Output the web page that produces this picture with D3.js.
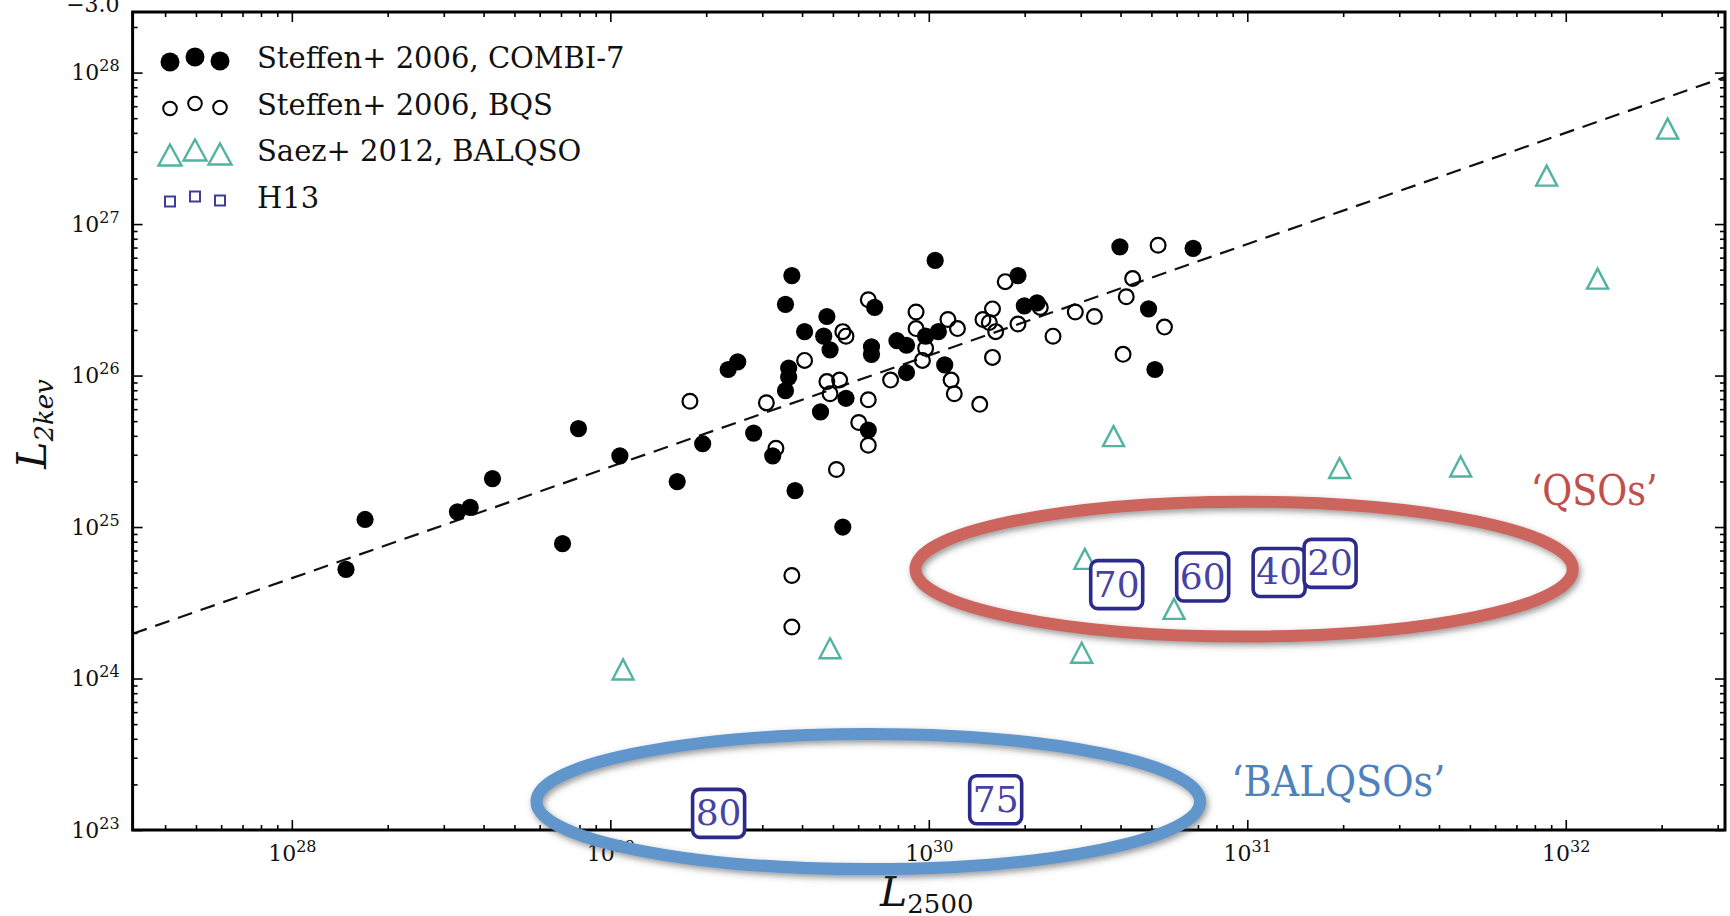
<!DOCTYPE html>
<html>
<head>
<meta charset="utf-8">
<script src="https://cdn.jsdelivr.net/npm/d3@7"></script>
<style>
  body { margin: 0; background: #fff; }
  svg text { font-family: "DejaVu Serif", serif; }
</style>
</head>
<body>
<div id="chart"></div>
<script>
// values, stored as log10 of the luminosity

// Steffen+ 2006, COMBI-7 (filled circles)
const combiLogL2500 = [28.17, 28.23, 28.52, 28.56, 28.63, 28.85, 28.90, 29.03, 29.21, 29.29,
    29.37, 29.40, 29.45, 29.51, 29.55, 29.56, 29.56, 29.55, 29.57, 29.58,
    29.61, 29.66, 29.67, 29.68, 29.69, 29.73, 29.74, 29.81, 29.82, 29.82,
    29.83, 29.90, 29.93, 29.93, 29.99, 30.02, 30.03, 30.05, 30.28, 30.30,
    30.34, 30.60, 30.83, 30.69, 30.71];
const combiLogL2kev = [24.72, 25.05, 25.10, 25.13, 25.32, 24.89, 25.65, 25.47, 25.30, 25.55,
    26.04, 26.09, 25.62, 25.47, 25.90, 25.99, 26.05, 26.47, 26.66, 25.24,
    26.29, 25.76, 26.26, 26.39, 26.17, 25.00, 25.85, 25.64, 26.19, 26.14,
    26.45, 26.23, 26.02, 26.20, 26.26, 26.76, 26.29, 26.07, 26.66, 26.46,
    26.48, 26.85, 26.84, 26.44, 26.04];

// Steffen+ 2006, BQS (open circles)
const bqsLogL2500 = [29.25, 29.49, 29.61, 29.73, 29.74, 29.68, 29.72, 29.69, 29.81, 29.78,
    29.81, 29.71, 29.52, 29.81, 29.96, 29.96, 29.99, 29.98, 29.88, 30.06,
    30.09, 30.07, 30.08, 30.24, 30.20, 30.17, 30.19, 30.21, 30.28, 30.35,
    30.39, 30.20, 30.46, 30.52, 30.64, 30.62, 30.72, 30.74, 30.61, 30.16,
    29.57, 29.57];
const bqsLogL2kev = [25.83, 25.82, 26.10, 26.29, 26.26, 25.96, 25.97, 25.88, 25.84, 25.69,
    25.54, 25.38, 25.52, 26.50, 26.42, 26.31, 26.18, 26.10, 25.97, 26.37,
    26.31, 25.97, 25.88, 26.62, 26.44, 26.37, 26.35, 26.29, 26.34, 26.45,
    26.26, 26.12, 26.42, 26.39, 26.64, 26.52, 26.86, 26.32, 26.14, 25.81,
    24.68, 24.34];

// Saez+ 2012, BALQSO (triangles)
const saezLogL2500 = [29.04, 29.69, 30.48, 30.49, 30.58, 30.77, 31.29, 31.67, 31.94, 32.10, 32.32];
const saezLogL2kev = [24.06, 24.20, 24.17, 24.79, 25.60, 24.46, 25.39, 25.40, 27.32, 26.64, 27.63];

// H13 (labelled boxes)
const h13Labels = ["80", "75", "70", "60", "40", "20"];
const h13LogL2500 = [29.34, 30.21, 30.59, 30.86, 31.10, 31.26];
const h13LogL2kev = [23.11, 23.20, 24.62, 24.67, 24.70, 24.76];

// dashed relation, end points
const fitLogL2500 = [27.5, 32.5];
const fitLogL2kev = [24.295, 27.97];

// axes
const xDomainLog = [27.5, 32.5];
const yDomainLog = [23, 28.4];
const xMajorExp = [28, 29, 30, 31, 32];
const yMajorExp = [23, 24, 25, 26, 27, 28];

const legendLabels = ["Steffen+ 2006, COMBI-7", "Steffen+ 2006, BQS", "Saez+ 2012, BALQSO", "H13"];

const width = 1730;
const height = 916;
const plot = { left: 132.6, right: 1725, top: 12, bottom: 830 };

const teal = "#52b3a0";
const boxBlue = "#2c2a8a";

const svg = d3.select("#chart")
    .append("svg")
    .attr("width", width)
    .attr("height", height);

const defs = svg.append("defs");
defs.append("clipPath").attr("id", "plotClip")
    .append("rect")
    .attr("x", plot.left).attr("y", plot.top)
    .attr("width", plot.right - plot.left).attr("height", plot.bottom - plot.top);

const shadow = defs.append("filter").attr("id", "shadow")
    .attr("x", "-20%").attr("y", "-40%").attr("width", "140%").attr("height", "180%");
shadow.append("feDropShadow")
    .attr("dx", 2).attr("dy", 3).attr("stdDeviation", 3)
    .attr("flood-color", "#444").attr("flood-opacity", 0.55);

const x = d3.scaleLog()
    .domain(xDomainLog.map(e => 10 ** e))
    .range([plot.left, plot.right]);

const y = d3.scaleLog()
    .domain(yDomainLog.map(e => 10 ** e))
    .range([plot.bottom, plot.top]);

// minor ticks 2..9 of each decade inside the domain
function minorTicks(domainLog) {
    return d3.range(Math.floor(domainLog[0]), Math.ceil(domainLog[1]))
        .flatMap(e => d3.range(2, 10).map(m => m * 10 ** e))
        .filter(v => v > 10 ** domainLog[0] && v < 10 ** domainLog[1]);
}

const xMajor = xMajorExp.map(e => 10 ** e);
const yMajor = yMajorExp.map(e => 10 ** e);

// ---- points ----
const pts = svg.append("g").attr("clip-path", "url(#plotClip)");

// fit line
pts.append("path")
    .datum(fitLogL2500.map((v, i) => [10 ** v, 10 ** fitLogL2kev[i]]))
    .attr("d", d3.line().x(d => x(d[0])).y(d => y(d[1])))
    .attr("fill", "none")
    .attr("stroke", "#111")
    .attr("stroke-width", 2.2)
    .attr("stroke-dasharray", "15,9");

pts.selectAll(".bqs")
    .data(bqsLogL2500.map((v, i) => ({ x: 10 ** v, y: 10 ** bqsLogL2kev[i] })))
    .enter()
    .append("circle")
    .attr("class", "bqs")
    .attr("cx", d => x(d.x))
    .attr("cy", d => y(d.y))
    .attr("r", 7.4)
    .attr("fill", "none")
    .attr("stroke", "#000")
    .attr("stroke-width", 2.2);

pts.selectAll(".combi")
    .data(combiLogL2500.map((v, i) => ({ x: 10 ** v, y: 10 ** combiLogL2kev[i] })))
    .enter()
    .append("circle")
    .attr("class", "combi")
    .attr("cx", d => x(d.x))
    .attr("cy", d => y(d.y))
    .attr("r", 8.6)
    .attr("fill", "#000");

const tri = (w, h) => `M0,${-h}L${w},${h}L${-w},${h}Z`;

pts.selectAll(".saez")
    .data(saezLogL2500.map((v, i) => ({ x: 10 ** v, y: 10 ** saezLogL2kev[i] })))
    .enter()
    .append("path")
    .attr("class", "saez")
    .attr("transform", d => `translate(${x(d.x)},${y(d.y)})`)
    .attr("d", tri(10.5, 10))
    .attr("fill", "none")
    .attr("stroke", teal)
    .attr("stroke-width", 2.4)
    .attr("stroke-linejoin", "miter");

// ---- axes ----
function powerLabels(g) {
    g.selectAll(".tick text").each(function (d) {
        const t = d3.select(this).text(null);
        t.append("tspan").text("10");
        t.append("tspan")
            .attr("dy", "-0.55em")
            .attr("font-size", 16)
            .text(Math.round(Math.log10(d)));
    });
}

function styleAxis(g) {
    g.select(".domain").remove();
    g.attr("font-family", "DejaVu Serif, serif").attr("font-size", 22);
    g.selectAll(".tick line").attr("stroke-width", 1.6);
    g.selectAll(".tick text").attr("fill", "#111");
}

const gxMinor = svg.append("g")
    .attr("transform", `translate(0,${plot.bottom})`)
    .call(d3.axisBottom(x).tickValues(minorTicks(xDomainLog)).tickSizeInner(-5).tickSizeOuter(0).tickFormat(""));
styleAxis(gxMinor);

const gx = svg.append("g")
    .attr("transform", `translate(0,${plot.bottom})`)
    .call(d3.axisBottom(x).tickValues(xMajor).tickSizeInner(-10).tickSizeOuter(0).tickPadding(15).tickFormat(d => d));
styleAxis(gx);
powerLabels(gx);

const gxTopMinor = svg.append("g")
    .attr("transform", `translate(0,${plot.top})`)
    .call(d3.axisTop(x).tickValues(minorTicks(xDomainLog)).tickSizeInner(-5).tickSizeOuter(0).tickFormat(""));
styleAxis(gxTopMinor);

const gxTop = svg.append("g")
    .attr("transform", `translate(0,${plot.top})`)
    .call(d3.axisTop(x).tickValues(xMajor).tickSizeInner(-10).tickSizeOuter(0).tickFormat(""));
styleAxis(gxTop);

const gyMinor = svg.append("g")
    .attr("transform", `translate(${plot.left},0)`)
    .call(d3.axisLeft(y).tickValues(minorTicks(yDomainLog)).tickSizeInner(-5).tickSizeOuter(0).tickFormat(""));
styleAxis(gyMinor);

const gy = svg.append("g")
    .attr("transform", `translate(${plot.left},0)`)
    .call(d3.axisLeft(y).tickValues(yMajor).tickSizeInner(-10).tickSizeOuter(0).tickPadding(13).tickFormat(d => d));
styleAxis(gy);
powerLabels(gy);

const gyRightMinor = svg.append("g")
    .attr("transform", `translate(${plot.right},0)`)
    .call(d3.axisRight(y).tickValues(minorTicks(yDomainLog)).tickSizeInner(-5).tickSizeOuter(0).tickFormat(""));
styleAxis(gyRightMinor);

const gyRight = svg.append("g")
    .attr("transform", `translate(${plot.right},0)`)
    .call(d3.axisRight(y).tickValues(yMajor).tickSizeInner(-10).tickSizeOuter(0).tickFormat(""));
styleAxis(gyRight);

// frame
svg.append("rect")
    .attr("x", plot.left).attr("y", plot.top)
    .attr("width", plot.right - plot.left).attr("height", plot.bottom - plot.top)
    .attr("fill", "none").attr("stroke", "#000").attr("stroke-width", 3);

// label left over from the panel above, cut by the top edge as in the original
svg.append("text")
    .attr("x", plot.left - 13).attr("y", 12)
    .attr("text-anchor", "end")
    .attr("font-size", 22)
    .attr("fill", "#111")
    .text("\u22123.0");

// axis titles
const xTitle = svg.append("text")
    .attr("x", (plot.left + plot.right) / 2 - 2)
    .attr("y", 906)
    .attr("text-anchor", "middle")
    .attr("fill", "#111");
xTitle.append("tspan").attr("font-style", "italic").attr("font-size", 41).text("L");
xTitle.append("tspan").attr("font-size", 26).attr("dy", 7).text("2500");

const yTitle = svg.append("text")
    .attr("transform", "translate(46,424) rotate(-90)")
    .attr("text-anchor", "middle")
    .attr("fill", "#111");
yTitle.append("tspan").attr("font-style", "italic").attr("font-size", 41).text("L");
yTitle.append("tspan").attr("font-style", "italic").attr("font-size", 26).attr("dy", 7).text("2kev");

// ---- legend ----
const legend = svg.append("g").attr("transform", "translate(0,68)");
const legendMarkerX = [170, 195, 220];
const legendMarkerDy = [-6, -11, -7];
const rowGap = 46.5;

legendLabels.forEach((label, i) => {
    const row = legend.append("g").attr("transform", `translate(0,${i * rowGap})`);
    legendMarkerX.forEach((mx, j) => {
        const my = legendMarkerDy[j];
        if (i === 0) {
            row.append("circle").attr("cx", mx).attr("cy", my).attr("r", 9.5).attr("fill", "#000");
        } else if (i === 1) {
            row.append("circle").attr("cx", mx).attr("cy", my).attr("r", 6.8)
                .attr("fill", "none").attr("stroke", "#000").attr("stroke-width", 2);
        } else if (i === 2) {
            row.append("path").attr("transform", `translate(${mx},${my})`).attr("d", tri(11.5, 10.5))
                .attr("fill", "none").attr("stroke", teal).attr("stroke-width", 2.4);
        } else {
            row.append("rect").attr("x", mx - 5).attr("y", my - 5).attr("width", 10).attr("height", 10)
                .attr("fill", "none").attr("stroke", "#3f3c9e").attr("stroke-width", 2);
        }
    });
    row.append("text")
        .attr("x", 257)
        .attr("y", 0)
        .attr("font-size", 29)
        .attr("fill", "#111")
        .text(label);
});

// ---- annotations: group ellipses ----
const groups = [
    { label: "\u2018QSOs\u2019", stroke: "#cd655e", color: "#c0504d", cx: 30.99, cy: 24.722, rx: 1.032, ry: 0.445, tx: 31.89, ty: 25.147, len: 127 },
    { label: "\u2018BALQSOs\u2019", stroke: "#6096cc", color: "#4f81bd", cx: 29.81, cy: 23.188, rx: 1.042, ry: 0.446, tx: 30.95, ty: 23.225, len: 214 }
];

const ann = svg.append("g");
groups.forEach(gr => {
    const cx = x(10 ** gr.cx);
    const cy = y(10 ** gr.cy);
    ann.append("ellipse")
        .attr("cx", cx)
        .attr("cy", cy)
        .attr("rx", x(10 ** (gr.cx + gr.rx)) - cx)
        .attr("ry", cy - y(10 ** (gr.cy + gr.ry)))
        .attr("fill", "none")
        .attr("stroke", gr.stroke)
        .attr("stroke-width", 12)
        .attr("filter", "url(#shadow)");
    ann.append("text")
        .attr("x", x(10 ** gr.tx))
        .attr("y", y(10 ** gr.ty))
        .attr("font-family", "Liberation Serif, serif")
        .attr("font-size", 43)
        .attr("textLength", gr.len)
        .attr("lengthAdjust", "spacingAndGlyphs")
        .attr("fill", gr.color)
        .text(gr.label);
});

// H13 labelled boxes
const h13 = ann.selectAll(".h13")
    .data(h13Labels.map((l, i) => ({ label: l, x: 10 ** h13LogL2500[i], y: 10 ** h13LogL2kev[i] })))
    .enter()
    .append("g")
    .attr("class", "h13")
    .attr("transform", d => `translate(${x(d.x)},${y(d.y)})`);

h13.append("rect")
    .attr("x", -26).attr("y", -24)
    .attr("width", 52).attr("height", 48)
    .attr("rx", 7)
    .attr("fill", "#fff")
    .attr("stroke", boxBlue)
    .attr("stroke-width", 3.6);

h13.append("text")
    .attr("text-anchor", "middle")
    .attr("y", 12)
    .attr("font-family", "Liberation Serif, serif")
    .attr("font-size", 36)
    .attr("fill", "#4743a3")
    .text(d => d.label);
</script>
</body>
</html>
